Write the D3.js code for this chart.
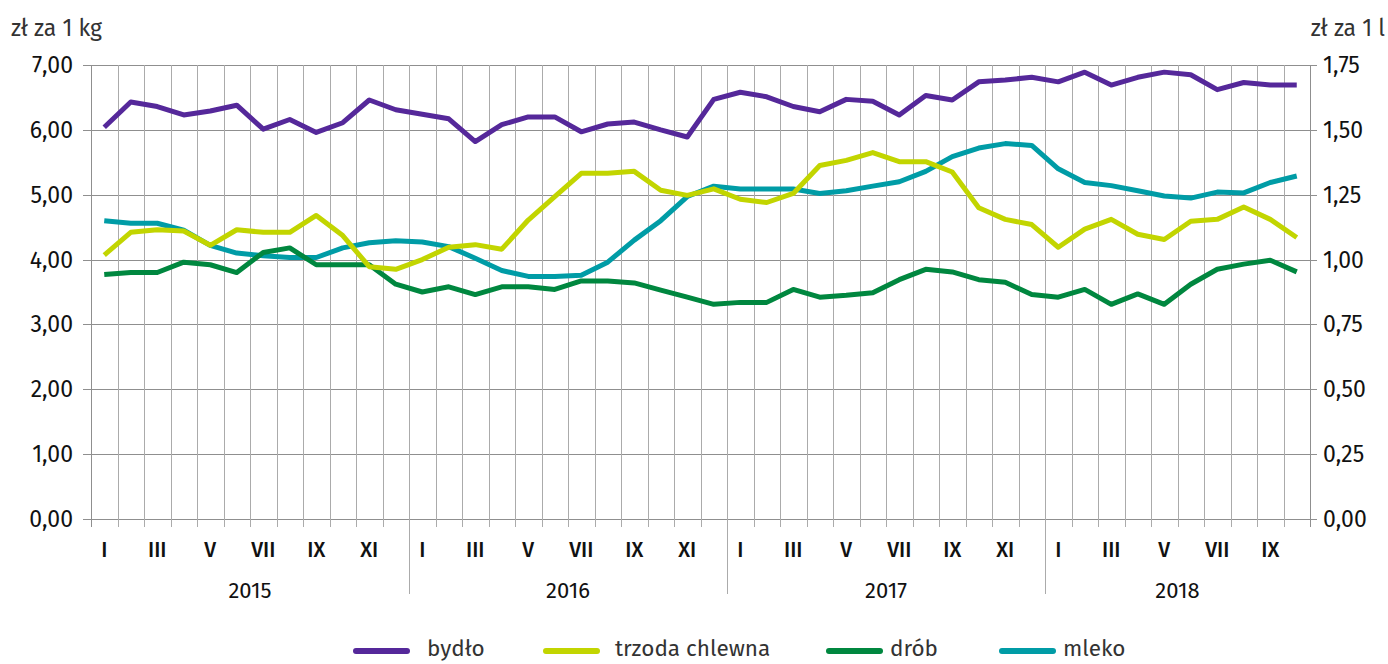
<!DOCTYPE html>
<html>
<head>
<meta charset="utf-8">
<script src="https://cdn.jsdelivr.net/npm/d3@7"></script>
<style>
  body { margin: 0; background: #fff; }
  svg { display: block; font-family: "Fira Sans", "Open Sans", "Noto Sans", sans-serif; }
</style>
</head>
<body>
<div id="chart"></div>
<script>
// months and years on the x axis (2015 I .. 2018 X)
const years = ["2015", "2016", "2017", "2018"];
const monthsPerYear = [12, 12, 12, 10];
const romans = ["I", "II", "III", "IV", "V", "VI", "VII", "VIII", "IX", "X", "XI", "XII"];

// zł za 1 kg (left axis)
const bydlo = [6.04, 6.43, 6.36, 6.23, 6.29, 6.38, 6.01, 6.16, 5.96, 6.11, 6.46, 6.31,
    6.24, 6.17, 5.82, 6.08, 6.20, 6.20, 5.97, 6.09, 6.12, 6.00, 5.89, 6.47,
    6.58, 6.51, 6.36, 6.28, 6.47, 6.44, 6.23, 6.53, 6.46, 6.74, 6.77, 6.81,
    6.74, 6.89, 6.69, 6.81, 6.89, 6.85, 6.62, 6.73, 6.69, 6.69];
const trzoda = [4.07, 4.42, 4.46, 4.44, 4.22, 4.46, 4.42, 4.42, 4.68, 4.37, 3.89, 3.85,
    4.00, 4.19, 4.23, 4.16, 4.61, 4.97, 5.33, 5.33, 5.36, 5.07, 4.99, 5.09,
    4.93, 4.88, 5.02, 5.45, 5.53, 5.65, 5.51, 5.51, 5.35, 4.80, 4.62, 4.54,
    4.19, 4.47, 4.62, 4.39, 4.31, 4.59, 4.62, 4.81, 4.62, 4.34];
const drob = [3.77, 3.80, 3.80, 3.96, 3.92, 3.80, 4.11, 4.18, 3.92, 3.92, 3.92, 3.62,
    3.50, 3.58, 3.46, 3.58, 3.58, 3.54, 3.67, 3.67, 3.64, 3.53, 3.42, 3.31,
    3.34, 3.34, 3.54, 3.42, 3.45, 3.49, 3.69, 3.85, 3.81, 3.69, 3.65, 3.46,
    3.42, 3.54, 3.31, 3.47, 3.31, 3.62, 3.85, 3.93, 3.99, 3.81];
// zł za 1 l (right axis)
const mleko = [1.150, 1.140, 1.140, 1.113, 1.055, 1.025, 1.015, 1.008, 1.008, 1.045, 1.065, 1.073,
    1.068, 1.050, 1.005, 0.958, 0.935, 0.935, 0.940, 0.990, 1.075, 1.150, 1.243, 1.283,
    1.272, 1.272, 1.272, 1.255, 1.265, 1.283, 1.300, 1.340, 1.397, 1.430, 1.447, 1.440,
    1.350, 1.297, 1.285, 1.265, 1.245, 1.237, 1.260, 1.257, 1.297, 1.322];

const leftTicks = [0, 1, 2, 3, 4, 5, 6, 7];
const rightTicks = [0, 0.25, 0.5, 0.75, 1, 1.25, 1.5, 1.75];

const seriesNames = ["bydło", "trzoda chlewna", "drób", "mleko"];
const seriesColors = ["#55289a", "#c2d500", "#00873f", "#009ca6"];

// build month index list
const months = [];
years.forEach((y, yi) => {
    for (let m = 0; m < monthsPerYear[yi]; m++) months.push({ year: y, month: romans[m], key: y + "-" + m });
});

const W = 1388, H = 664;
const margin = { top: 65, right: 78, bottom: 145, left: 91 };
const width = W - margin.left - margin.right;
const height = H - margin.top - margin.bottom;

const svg = d3.select("#chart").append("svg")
    .attr("width", W)
    .attr("height", H);

const g = svg.append("g")
    .attr("transform", `translate(${margin.left},${margin.top})`);

const x = d3.scaleBand()
    .domain(months.map(d => d.key))
    .range([0, width]);

const yL = d3.scaleLinear().domain([0, 7]).range([height, 0]);
const yR = d3.scaleLinear().domain([0, 1.75]).range([height, 0]);

const fmt = d => d.toFixed(2).replace(".", ",");

// horizontal gridlines
g.append("g")
    .selectAll("line")
    .data(leftTicks)
    .join("line")
    .attr("x1", -8)
    .attr("x2", width + 7)
    .attr("y1", d => Math.round(yL(d)) + 0.5)
    .attr("y2", d => Math.round(yL(d)) + 0.5)
    .attr("stroke", "#8f8f8f")
    .attr("stroke-width", 1);

// vertical gridlines at every month boundary
const bounds = months.map(d => x(d.key)).concat([width]);
g.append("g")
    .selectAll("line")
    .data(bounds)
    .join("line")
    .attr("x1", d => Math.round(d) + 0.5)
    .attr("x2", d => Math.round(d) + 0.5)
    .attr("y1", 0)
    .attr("y2", (d, i) => {
        const isYear = i > 0 && i < months.length && months[i].month === "I";
        return isYear ? height + 75 : height + 8;
    })
    .attr("stroke", (d, i) => (i === 0 || i === months.length) ? "#8f8f8f" : "#ababab")
    .attr("stroke-width", 1);

// left axis labels
g.append("g")
    .selectAll("text")
    .data(leftTicks)
    .join("text")
    .attr("x", -18)
    .attr("y", d => yL(d))
    .attr("dy", "0.35em")
    .attr("text-anchor", "end")
    .attr("font-size", 23)
    .attr("fill", "#111")
    .text(fmt);

// right axis labels
g.append("g")
    .selectAll("text")
    .data(rightTicks)
    .join("text")
    .attr("x", width + 13)
    .attr("y", d => yR(d))
    .attr("dy", "0.35em")
    .attr("text-anchor", "start")
    .attr("font-size", 23)
    .attr("fill", "#111")
    .text(fmt);

// axis titles
svg.append("text")
    .attr("x", 11)
    .attr("y", 36)
    .attr("font-size", 23)
    .attr("fill", "#333")
    .text("zł za 1 kg");

svg.append("text")
    .attr("x", W - 3)
    .attr("y", 36)
    .attr("text-anchor", "end")
    .attr("font-size", 23)
    .attr("fill", "#333")
    .text("zł za 1 l");

// month labels (every other month)
g.append("g")
    .selectAll("text")
    .data(months.filter((d, i) => romans.indexOf(d.month) % 2 === 0))
    .join("text")
    .attr("x", d => x(d.key) + x.bandwidth() / 2)
    .attr("y", height + 38)
    .attr("text-anchor", "middle")
    .attr("font-size", 21)
    .attr("font-weight", 500)
    .attr("fill", "#111")
    .text(d => d.month);

// year labels
g.append("g")
    .selectAll("text")
    .data(years)
    .join("text")
    .attr("x", y => {
        const ms = months.filter(d => d.year === y);
        return (x(ms[0].key) + x(ms[ms.length - 1].key) + x.bandwidth()) / 2;
    })
    .attr("y", height + 79)
    .attr("text-anchor", "middle")
    .attr("font-size", 22)
    .attr("fill", "#111")
    .text(y => y);

// lines
const cx = i => x(months[i].key) + x.bandwidth() / 2;
const series = [
    { values: bydlo, scale: yL },
    { values: trzoda, scale: yL },
    { values: drob, scale: yL },
    { values: mleko, scale: yR }
];
const drawOrder = [3, 2, 1, 0];
drawOrder.forEach(si => {
    const s = series[si];
    const line = d3.line()
        .x((d, i) => cx(i))
        .y(d => s.scale(d));
    g.append("path")
        .datum(s.values)
        .attr("fill", "none")
        .attr("stroke", seriesColors[si])
        .attr("stroke-width", 5)
        .attr("stroke-linejoin", "round")
        .attr("d", line);
});

// legend
const legendX = [353, 543, 826, 999];
const legendTextDx = [74, 72, 64, 64];
const legend = svg.append("g").attr("transform", "translate(0,651)");
seriesNames.forEach((name, i) => {
    const item = legend.append("g").attr("transform", `translate(${legendX[i]},0)`);
    item.append("line")
        .attr("x1", 3).attr("x2", 54)
        .attr("stroke", seriesColors[i])
        .attr("stroke-width", 6)
        .attr("stroke-linecap", "round");
    item.append("text")
        .attr("x", legendTextDx[i])
        .attr("y", 5)
        .attr("font-size", 22.5)
        .attr("fill", "#333")
        .text(name);
});
</script>
</body>
</html>
